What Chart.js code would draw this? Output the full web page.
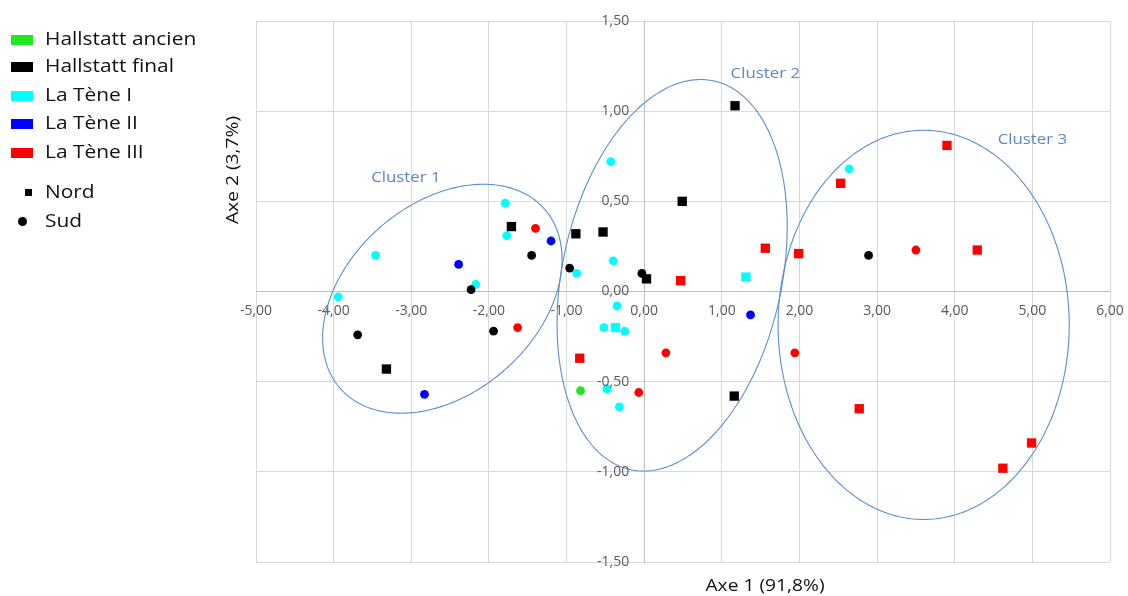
<!DOCTYPE html>
<html>
<head>
<meta charset="utf-8">
<script src="https://cdn.jsdelivr.net/npm/chart.js@4.4.1/dist/chart.umd.min.js"></script>
<style>
  html, body { margin: 0; padding: 0; background: #fff; }
  #wrap { position: relative; width: 1128px; height: 596px; overflow: hidden; font-family: "Open Sans", sans-serif; }
  #c { position: absolute; left: 0; top: 0; }
  .lg { position: absolute; left: 0; height: 20px; line-height: 20px; font-size: 19px; color: #111; white-space: nowrap; }
  .lg .t { position: absolute; left: 45px; top: -2px; transform: scaleX(1.1); transform-origin: 0 50%; }
  .box { position: absolute; left: 11px; top: 5px; width: 22px; height: 10px; }
  .sq { position: absolute; left: 25px; top: 6px; width: 7px; height: 7px; background: #000; }
  .ci { position: absolute; left: 18px; top: 5px; width: 9px; height: 9px; border-radius: 50%; background: #000; }
  .ax { position: absolute; font-size: 17px; color: #111; white-space: nowrap; }
</style>
</head>
<body>
<div id="wrap">
  <canvas id="c" width="1128" height="596"></canvas>
  <div id="legend"></div>
  <div class="ax" id="xt" style="left:765px; top:584px; transform:translate(-50%,-50%) scaleX(1.13);">Axe 1 (91,8%)</div>
  <div class="ax" id="yt" style="left:231px; top:170px; transform:translate(-50%,-50%) rotate(-90deg) scaleX(1.13);">Axe 2 (3,7%)</div>
</div>
<script>
// ---------- DATA ----------
const periodNames = ['Hallstatt ancien', 'Hallstatt final', 'La Tène I', 'La Tène II', 'La Tène III'];
const periodColors = ['#22e622', '#000000', '#00ffff', '#0000ff', '#ff0000'];
const regionNames = ['Nord', 'Sud'];

const hallstattAncienSud = [{x: -0.82, y: -0.55}];
const hallstattFinalNord = [
  {x: -1.71, y: 0.36}, {x: -3.32, y: -0.43}, {x: -0.88, y: 0.32}, {x: -0.53, y: 0.33},
  {x: 0.49, y: 0.50}, {x: 1.17, y: 1.03}, {x: 0.03, y: 0.07}, {x: 1.16, y: -0.58}
];
const hallstattFinalSud = [
  {x: -1.45, y: 0.20}, {x: -0.96, y: 0.13}, {x: -2.23, y: 0.01}, {x: -3.69, y: -0.24},
  {x: -1.94, y: -0.22}, {x: -0.03, y: 0.10}, {x: 2.89, y: 0.20}
];
const laTene1Nord = [{x: 1.31, y: 0.08}, {x: -0.37, y: -0.20}];
const laTene1Sud = [
  {x: -1.79, y: 0.49}, {x: -1.77, y: 0.31}, {x: -3.46, y: 0.20}, {x: -2.17, y: 0.04},
  {x: -3.94, y: -0.03}, {x: -0.43, y: 0.72}, {x: -0.40, y: 0.17}, {x: -0.87, y: 0.10},
  {x: -0.35, y: -0.08}, {x: -0.52, y: -0.20}, {x: -0.25, y: -0.22}, {x: -0.48, y: -0.54},
  {x: -0.32, y: -0.64}, {x: 2.64, y: 0.68}
];
const laTene2Sud = [{x: -1.20, y: 0.28}, {x: -2.39, y: 0.15}, {x: -2.83, y: -0.57}, {x: 1.37, y: -0.13}];
const laTene3Nord = [
  {x: 0.47, y: 0.06}, {x: 1.56, y: 0.24}, {x: 1.99, y: 0.21}, {x: 2.53, y: 0.60},
  {x: 3.90, y: 0.81}, {x: 4.29, y: 0.23}, {x: -0.83, y: -0.37}, {x: 2.77, y: -0.65},
  {x: 4.99, y: -0.84}, {x: 4.62, y: -0.98}
];
const laTene3Sud = [
  {x: -1.40, y: 0.35}, {x: -1.63, y: -0.20}, {x: 0.28, y: -0.34}, {x: 1.94, y: -0.34},
  {x: -0.07, y: -0.56}, {x: 3.50, y: 0.23}
];

const xTickLabels = ['-5,00','-4,00','-3,00','-2,00','-1,00','0,00','1,00','2,00','3,00','4,00','5,00','6,00'];
const yTickLabels = ['-1,50','-1,00','-0,50','0,00','0,50','1,00','1,50'];

// Cluster ellipses: centre, first semi-axis vector, second semi-axis vector (data units)
const clusterNames = ['Cluster 1', 'Cluster 2', 'Cluster 3'];
const clusterCenters = [{x: -2.60, y: -0.04}, {x: 0.36, y: 0.09}, {x: 3.60, y: -0.185}];
const clusterAxisU = [{x: 1.316, y: 0.497}, {x: 0.533, y: 1.078}, {x: 1.875, y: 0}];
const clusterAxisV = [{x: -0.804, y: 0.395}, {x: -1.383, y: 0.127}, {x: 0, y: 1.079}];
const clusterLabelPos = [{x: -3.07, y: 0.63}, {x: 1.56, y: 1.21}, {x: 5.0, y: 0.84}];

// ---------- CHART ----------
function ds(label, data, color, shape) {
  return {
    label, data,
    backgroundColor: color, borderColor: color, borderWidth: 0,
    pointStyle: shape, pointRadius: shape === 'rect' ? 6.6 : 4.4,
    pointHoverRadius: shape === 'rect' ? 6.6 : 4.4
  };
}
const datasets = [
  ds('Hallstatt ancien - Sud', hallstattAncienSud, periodColors[0], 'circle'),
  ds('Hallstatt final - Nord', hallstattFinalNord, periodColors[1], 'rect'),
  ds('Hallstatt final - Sud', hallstattFinalSud, periodColors[1], 'circle'),
  ds('La Tène I - Nord', laTene1Nord, periodColors[2], 'rect'),
  ds('La Tène I - Sud', laTene1Sud, periodColors[2], 'circle'),
  ds('La Tène II - Sud', laTene2Sud, periodColors[3], 'circle'),
  ds('La Tène III - Nord', laTene3Nord, periodColors[4], 'rect'),
  ds('La Tène III - Sud', laTene3Sud, periodColors[4], 'circle')
];

const FONT = '"Open Sans", sans-serif';

// y tick labels placed left of the x = 0 axis line
const yLabelPlugin = {
  id: 'yLabels',
  afterDraw(chart) {
    const {ctx, scales: {x, y}} = chart;
    const x0 = x.getPixelForValue(0);
    ctx.save();
    ctx.fillStyle = '#595959';
    ctx.font = '14px ' + FONT;
    ctx.textAlign = 'right';
    ctx.textBaseline = 'middle';
    y.ticks.forEach((t, i) => {
      ctx.fillText(yTickLabels[i], x0 - 15, y.getPixelForValue(t.value));
    });
    ctx.restore();
  }
};

const clusterPlugin = {
  id: 'clusters',
  afterDatasetsDraw(chart) {
    const {ctx, scales: {x, y}} = chart;
    ctx.save();
    ctx.strokeStyle = '#5b8fcc';
    ctx.lineWidth = 1.1;
    for (let k = 0; k < clusterCenters.length; k++) {
      const c = clusterCenters[k], u = clusterAxisU[k], v = clusterAxisV[k];
      ctx.beginPath();
      for (let i = 0; i <= 360; i++) {
        const t = i * Math.PI / 180;
        const px = x.getPixelForValue(c.x + u.x * Math.cos(t) + v.x * Math.sin(t));
        const py = y.getPixelForValue(c.y + u.y * Math.cos(t) + v.y * Math.sin(t));
        if (i === 0) ctx.moveTo(px, py); else ctx.lineTo(px, py);
      }
      ctx.closePath();
      ctx.stroke();
    }
    ctx.fillStyle = '#5b87c2';
    ctx.font = '15px ' + FONT;
    ctx.textAlign = 'center';
    ctx.textBaseline = 'middle';
    for (let k = 0; k < clusterNames.length; k++) {
      ctx.save();
      ctx.translate(x.getPixelForValue(clusterLabelPos[k].x), y.getPixelForValue(clusterLabelPos[k].y));
      ctx.scale(1.12, 1);
      ctx.fillText(clusterNames[k], 0, 0);
      ctx.restore();
    }
    ctx.restore();
  }
};

new Chart(document.getElementById('c'), {
  type: 'scatter',
  data: {datasets},
  options: {
    responsive: false,
    animation: false,
    devicePixelRatio: 1,
    layout: {padding: {left: 256, right: 18, top: 21, bottom: 34}},
    plugins: {legend: {display: false}, tooltip: {enabled: false}},
    scales: {
      x: {
        type: 'linear', min: -5, max: 6,
        position: {y: 0},
        afterFit: s => { s.height = 0; s.paddingLeft = 0; s.paddingRight = 0; },
        ticks: {stepSize: 1, color: '#595959', font: {family: FONT, size: 14}, padding: 11, maxRotation: 0,
          callback: (v, i) => xTickLabels[i]},
        grid: {color: ctx => ctx.tick && ctx.tick.value === 0 ? '#bfbfbf' : '#d9d9d9', lineWidth: 1, drawTicks: false},
        border: {display: true, color: '#bfbfbf', width: 1}
      },
      y: {
        type: 'linear', min: -1.5, max: 1.5,
        position: {x: 0},
        afterFit: s => { s.width = 0; s.paddingTop = 0; s.paddingBottom = 0; },
        ticks: {stepSize: 0.5, display: false},
        grid: {color: ctx => ctx.tick && ctx.tick.value === 0 ? '#bfbfbf' : '#d9d9d9', lineWidth: 1, drawTicks: false},
        border: {display: true, color: '#bfbfbf', width: 1}
      }
    }
  },
  plugins: [clusterPlugin, yLabelPlugin]
});

// ---------- HTML LEGEND ----------
const legend = document.getElementById('legend');
const rowY = [40, 67, 96, 124, 153];
periodNames.forEach((n, i) => {
  const d = document.createElement('div');
  d.className = 'lg';
  d.style.top = (rowY[i] - 10) + 'px';
  d.innerHTML = '<span class="box" style="background:' + periodColors[i] + '"></span><span class="t">' + n + '</span>';
  legend.appendChild(d);
});
const regRowY = [193, 222];
const regShape = ['sq', 'ci'];
regionNames.forEach((n, i) => {
  const d = document.createElement('div');
  d.className = 'lg';
  d.style.top = (regRowY[i] - 10) + 'px';
  d.innerHTML = '<span class="' + regShape[i] + '"></span><span class="t">' + n + '</span>';
  legend.appendChild(d);
});
</script>
</body>
</html>
